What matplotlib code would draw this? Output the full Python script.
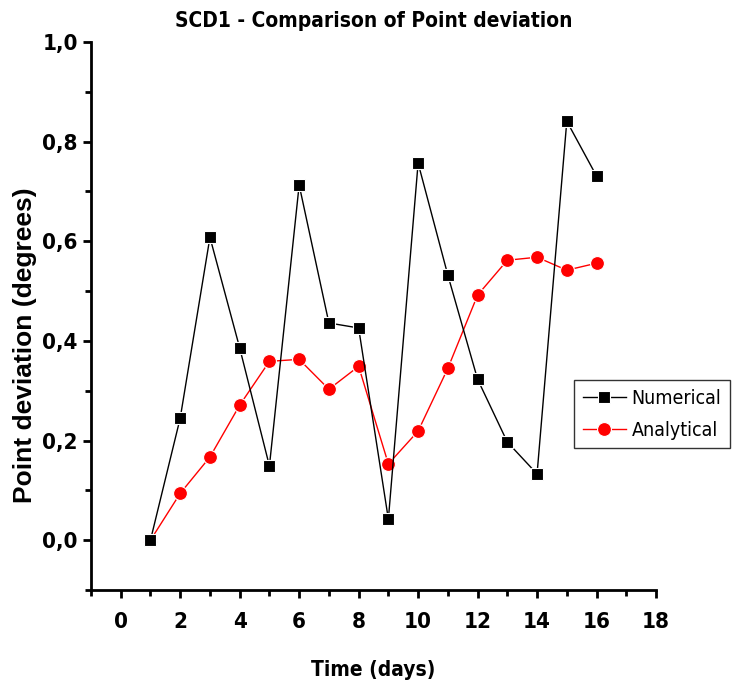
import matplotlib
matplotlib.use("Agg")
import matplotlib.pyplot as plt
from matplotlib.ticker import MultipleLocator, FuncFormatter
from matplotlib.font_manager import FontProperties

days = [1, 2, 3, 4, 5, 6, 7, 8, 9, 10, 11, 12, 13, 14, 15, 16]
numerical = [0.0, 0.245, 0.608, 0.386, 0.149, 0.713, 0.436, 0.426,
             0.042, 0.757, 0.532, 0.323, 0.197, 0.133, 0.841, 0.731]
analytical = [0.0, 0.094, 0.167, 0.271, 0.359, 0.363, 0.303, 0.349,
              0.153, 0.219, 0.345, 0.492, 0.562, 0.568, 0.542, 0.556]

# narrow bold look for most texts, plain bold for the y label
cond_bold = dict(family='DejaVu Sans', stretch='condensed', weight='bold')

fig = plt.figure(figsize=(7.32, 6.89), dpi=100)
ax = fig.add_axes([0.1243, 0.1437, 0.7719, 0.7953])

ax.plot(days, numerical, color='black', lw=1, marker='s', ms=8,
        mec='white', mew=0.8, label='Numerical', zorder=3)
ax.plot(days, analytical, color='red', lw=1, marker='o', ms=10,
        mec='white', mew=0.8, label='Analytical', zorder=2)

ax.set_xlim(-1, 18)
ax.set_ylim(-0.1, 1.0)
ax.xaxis.set_major_locator(MultipleLocator(2))
ax.xaxis.set_minor_locator(MultipleLocator(1))
ax.yaxis.set_major_locator(MultipleLocator(0.2))
ax.yaxis.set_minor_locator(MultipleLocator(0.1))
ax.yaxis.set_major_formatter(FuncFormatter(lambda v, p: f"{v:.1f}".replace('.', ',')))

for s in ['top', 'right']:
    ax.spines[s].set_visible(False)
for s in ['left', 'bottom']:
    ax.spines[s].set_linewidth(2)
ax.tick_params(which='major', direction='out', length=6, width=2,
               labelsize=16)
ax.tick_params(which='minor', direction='out', length=4, width=2)
ax.tick_params(axis='x', which='major', pad=10)
for lbl in ax.get_xticklabels() + ax.get_yticklabels():
    lbl.set_fontproperties(FontProperties(size=16, **cond_bold))

ax.set_xlabel('Time (days)', fontsize=15, labelpad=20, **cond_bold)
ax.set_ylabel('Point deviation (degrees)', family='Liberation Sans',
              fontweight='bold', fontsize=19)
ax.yaxis.set_label_coords(-0.095, 0.447)
ax.set_title('SCD1 - Comparison of Point deviation', fontsize=15, pad=11,
             **cond_bold)

leg = ax.legend(loc='upper left', bbox_to_anchor=(0.855, 0.383),
                prop=FontProperties(family='DejaVu Sans', stretch='condensed',
                                    size=14),
                frameon=True, fancybox=False,
                edgecolor='black', handlelength=2.2, borderpad=0.45,
                labelspacing=0.65, handletextpad=0.3, borderaxespad=0)
leg.get_frame().set_linewidth(1)

fig.savefig('out.png', dpi=100)
